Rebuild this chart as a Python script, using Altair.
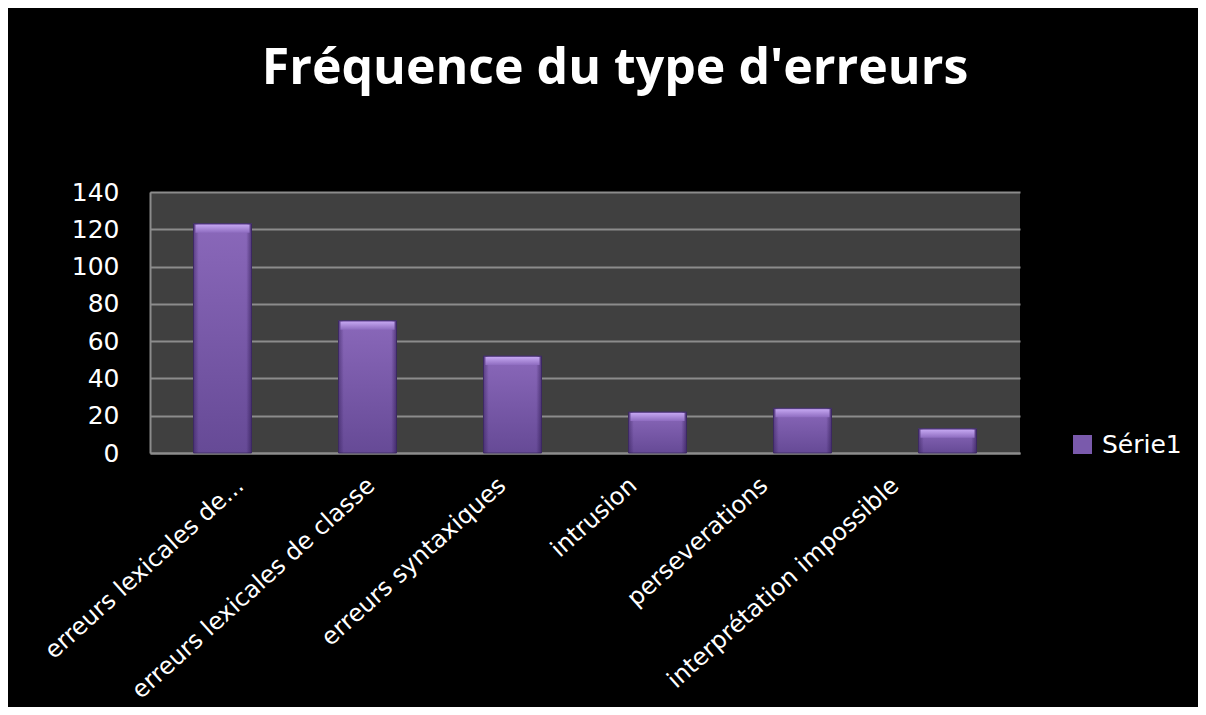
import altair as alt
import pandas as pd

categories = [
    "erreurs lexicales de...",
    "erreurs lexicales de classe",
    "erreurs syntaxiques",
    "intrusion",
    "perseverations",
    "interprétation impossible",
]
values = [123, 71, 52, 22, 24, 13]
series = ["Série1"] * len(categories)

df = pd.DataFrame({"type": categories, "freq": values, "serie": series})

FONT = "DejaVu Sans"
TFONT = "Open Sans"

x_enc = alt.X(
    "type:N",
    sort=categories,
    title=None,
    scale=alt.Scale(paddingInner=0.6, paddingOuter=0.3),
    axis=alt.Axis(
        labelAngle=-42,
        labelColor="white",
        labelFont=FONT,
        labelFontSize=24,
        labelPadding=20,
        labelOffset=alt.ExprRef("10 - 70 * datum.index"),
        ticks=False,
        domainColor="#8c8c8c",
        domainWidth=2,
        labelLimit=400,
    ),
)
y_enc = alt.Y(
    "freq:Q",
    title=None,
    scale=alt.Scale(domain=[0, 140]),
    axis=alt.Axis(
        values=[0, 20, 40, 60, 80, 100, 120, 140],
        labelColor="white",
        labelFont=FONT,
        labelFontSize=25,
        labelPadding=31,
        ticks=False,
        domainColor="#8c8c8c",
        domainWidth=2,
        gridColor="#8c8c8c",
        gridWidth=2,
    ),
)

base_bars = alt.Chart(df).mark_bar().encode(
    x=x_enc,
    y=y_enc,
    color=alt.Color(
        "serie:N",
        title=None,
        scale=alt.Scale(range=["#7a5aac"]),
        legend=alt.Legend(
            orient="none",
            legendX=920,
            legendY=240,
            symbolType="square",
            symbolSize=360,
            symbolStrokeWidth=0,
            labelColor="white",
            labelFont=FONT,
            labelFontSize=25,
            labelOffset=7,
        ),
    ),
)

grad = alt.Gradient(
    gradient="linear",
    x1=0, y1=0, x2=0, y2=1,
    stops=[
        alt.GradientStop(offset=0, color="#8a68ba"),
        alt.GradientStop(offset=1, color="#664a96"),
    ],
)

grad_bars = alt.Chart(df).mark_bar(
    color=grad,
    stroke="#43306a",
    strokeWidth=1,
).encode(x=x_enc, y=y_enc)

side = alt.Gradient(
    gradient="linear",
    x1=0, y1=0, x2=1, y2=0,
    stops=[
        alt.GradientStop(offset=0, color="rgba(40,20,75,0.45)"),
        alt.GradientStop(offset=0.09, color="rgba(40,20,75,0)"),
        alt.GradientStop(offset=0.91, color="rgba(40,20,75,0)"),
        alt.GradientStop(offset=1, color="rgba(40,20,75,0.55)"),
    ],
)

side_bars = alt.Chart(df).mark_bar(color=side).encode(x=x_enc, y=y_enc)

top = alt.Gradient(
    gradient="linear",
    x1=0, y1=0, x2=0, y2=1,
    stops=[
        alt.GradientStop(offset=0, color="#c4a6f0"),
        alt.GradientStop(offset=1, color="#8e6cc0"),
    ],
)

top_band = alt.Chart(df).mark_tick(
    color=top,
    thickness=8,
    size=54,
    yOffset=5,
    opacity=1,
).encode(x=x_enc, y=y_enc)

chart = alt.layer(base_bars, grad_bars, side_bars, top_band).properties(
    width=870,
    height=261,
    title=alt.TitleParams(
        "Fréquence du type d'erreurs",
        color="white",
        font=TFONT,
        fontSize=50,
        fontWeight="bold",
        anchor="middle",
        dx=30,
        offset=86,
    ),
    background="black",
    padding={"left": 142, "top": 184, "right": 178, "bottom": 254},
    autosize=alt.AutoSizeParams(type="none"),
).configure_view(
    fill="#404040",
    stroke=None,
)

chart.save("out.html", embed_options={"renderer": "svg", "actions": False})
